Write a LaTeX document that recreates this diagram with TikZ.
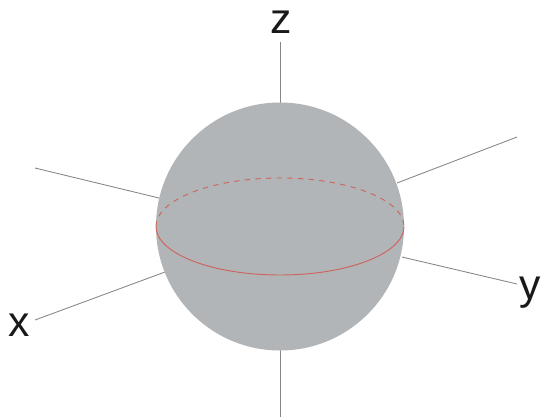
\documentclass[tikz,border=0pt]{standalone}
\usepackage{fontspec}
\setmainfont{Liberation Sans}
\definecolor{ball}{RGB}{178,181,183}
\definecolor{eq}{RGB}{205,100,92}
\definecolor{axgray}{RGB}{135,135,135}
\tikzset{axisline/.style={draw=axgray,line width=0.65pt},lab/.style={font=\fontsize{32}{32}\selectfont,inner sep=0pt,anchor=base,text=black!90}}
\begin{document}
\begin{tikzpicture}[x=0.75pt,y=-0.75pt]
\useasboundingbox (0,0) rectangle (541,418);
\fill[white] (0,0) rectangle (541,418);
\node[lab] (z) at (281.5,33) {z};
\node[lab] (x) at (19.5,336) {x};
\node[lab] (y) at (530,299) {y};
\coordinate (zt) at (280.5,42);
\coordinate (zb) at (280.5,417);
\coordinate (xe) at (35,320);
\coordinate (ye) at (517,284);
\coordinate (b1) at (35,168);
\coordinate (b2) at (517,137);
\coordinate (c) at (280,226.5);
\draw[axisline] (zt) -- (280.5,103);
\draw[axisline] (280.5,349) -- (zb);
\draw[axisline] (xe) -- (165,272);
\draw[axisline] (b1) -- (159,198);
\draw[axisline] (b2) -- (397,183);
\draw[axisline] (402,257) -- (ye);
\fill[ball] (c) circle[radius=124];
\draw[eq,line width=0.7pt] (156,226.5) arc[x radius=124,y radius=48.5,start angle=180,delta angle=-180];
\draw[eq,line width=0.7pt,dash pattern=on 4pt off 4pt] (156,226.5) arc[x radius=124,y radius=48.5,start angle=180,delta angle=180];
\end{tikzpicture}
\end{document}
